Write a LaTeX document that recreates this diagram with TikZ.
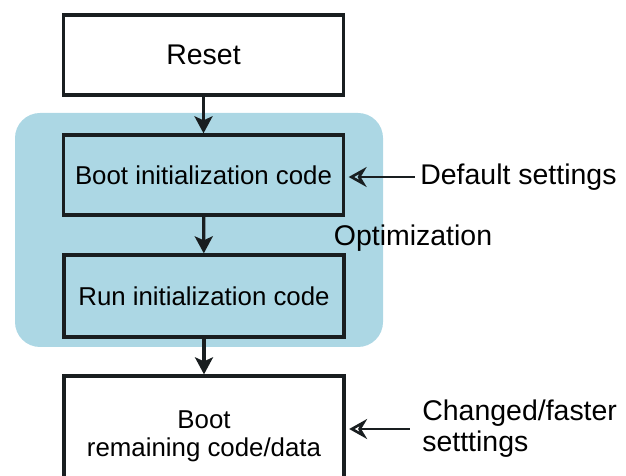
\documentclass[tikz,border=0pt]{standalone}
\usepackage{fontspec}
\setmainfont{Liberation Sans}
\usetikzlibrary{arrows.meta}

\definecolor{optblue}{RGB}{172,215,228}
\definecolor{inkline}{RGB}{25,30,32}

\begin{document}
\begin{tikzpicture}[x=0.02cm, y=-0.02cm,
  stepbox/.style = {draw=inkline, line width=1.9pt, minimum width=5.6cm, inner sep=0pt, align=center,
                    font=\fontsize{14.7}{15.9}\selectfont},
  flow/.style = {draw=inkline, line width=1.9pt, -{Stealth[length=0.34cm, width=0.36cm, inset=0.08cm]}},
  hint/.style = {draw=inkline, line width=1.6pt, -{Stealth[open, length=0.36cm, width=0.4cm, inset=0.12cm, line width=1.5pt]}},
  sidetext/.style = {anchor=west, align=left, inner sep=0pt, font=\fontsize{16.2}{17.6}\selectfont}]

\useasboundingbox (0,0) rectangle (626,476);
\clip (0,0) rectangle (626,476);

% optimization area
\fill[optblue, rounded corners=0.5cm] (15,113) rectangle (383,347);
\node[font=\fontsize{16.2}{17.6}\selectfont] (opt) at (413,238) {Optimization};

% boot steps
\node[stepbox, minimum height=1.6cm, font=\fontsize{16.2}{17.6}\selectfont] (reset) at (203.5,55) {Reset};
\node[stepbox, minimum height=1.6cm] (bootinit) at (203.5,175) {Boot initialization code};
\node[stepbox, minimum height=1.64cm] (runinit) at (204,296) {Run initialization code};
\node[stepbox, minimum height=2.4cm] (remain) at (204,436) {Boot\\remaining code/data};

\draw[flow] (reset) -- (bootinit);
\draw[flow] (bootinit) -- (runinit);
\draw[flow] (runinit) -- (remain);

% settings
\node[sidetext] (defset) at (420,177) {Default settings};
\node[sidetext] (chgset) at (422,429) {Changed/faster\\setttings};

\draw[hint] ([xshift=-3pt]defset.west) -- ([xshift=2pt]defset.west -| bootinit.east);
\draw[hint] ([xshift=-7pt]chgset.west) -- ([xshift=2pt]chgset.west -| remain.east);

\end{tikzpicture}
\end{document}
